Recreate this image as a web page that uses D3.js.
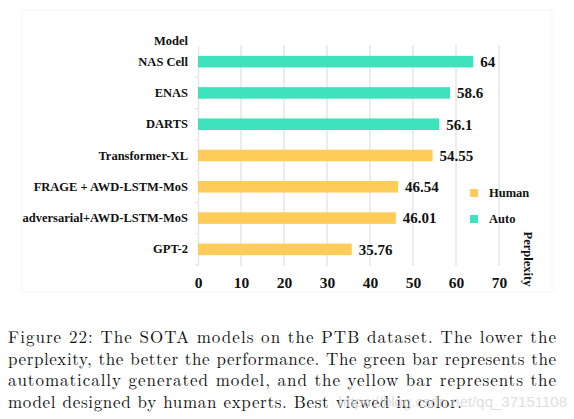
<!DOCTYPE html>
<html><head><meta charset="utf-8">
<script src="https://cdn.jsdelivr.net/npm/d3@7"></script>
<style>html,body{margin:0;padding:0;background:#fff;}svg{display:block;}</style>
</head><body>
<script>
const models = ["NAS Cell","ENAS","DARTS","Transformer-XL","FRAGE + AWD-LSTM-MoS","adversarial+AWD-LSTM-MoS","GPT-2"];
const perplexity = [64, 58.6, 56.1, 54.55, 46.54, 46.01, 35.76];
const valueLabels = ["64","58.6","56.1","54.55","46.54","46.01","35.76"];
const groups = ["Auto","Auto","Auto","Human","Human","Human","Human"];
const legendKeys = ["Human","Auto"];
const xTicks = [0,10,20,30,40,50,60,70];
const captionLines = [
  "Figure 22: The SOTA models on the PTB dataset. The lower the",
  "perplexity, the better the performance. The green bar represents the",
  "automatically generated model, and the yellow bar represents the",
  "model designed by human experts. Best viewed in color."
];
const colors = {Human:"#FFCC5A", Auto:"#3EE3BD"};

const W=574,H=419;
const SF='"Liberation Serif", monospace';
const CM='"Latin Modern Roman", monospace';
const svg=d3.select("body").append("svg").attr("width",W).attr("height",H);

svg.append("rect").attr("x",22).attr("y",10).attr("width",530).attr("height",282)
  .attr("fill","none").attr("stroke","#f5f5f5");

const x=d3.scaleLinear().domain([0,70]).range([198,499]);
const y=d3.scaleBand().domain(models).range([46,265]);

function lbl(sel,size){
  return sel.style("font-family",SF).style("font-weight","bold").style("font-size",size+"px").attr("fill","#111");
}

svg.append("g").selectAll("line").data(xTicks.slice(1)).join("line")
  .attr("x1",d=>x(d)).attr("x2",d=>x(d)).attr("y1",45).attr("y2",266)
  .attr("stroke","#e6e6e6").attr("stroke-width",1.5);

const yAxis=svg.append("g").attr("transform","translate(198,0)")
  .call(d3.axisLeft(y).tickSize(0).tickPadding(10));
yAxis.attr("font-family",null).attr("font-size",null);
yAxis.select(".domain").attr("stroke","#e6e6e6").attr("stroke-width",1.5);
lbl(yAxis.selectAll("text"),12.5);
svg.append("g").selectAll("line").data(d3.range(1,models.length+1)).join("line")
  .attr("x1",195).attr("x2",198)
  .attr("y1",i=>y.range()[0]+i*y.step()).attr("y2",i=>y.range()[0]+i*y.step())
  .attr("stroke","#e0e0e0");

lbl(svg.append("text").attr("x",188).attr("y",45).attr("text-anchor","end"),12.5).text("Model");

const xAxis=svg.append("g").attr("transform","translate(0,266)")
  .call(d3.axisBottom(x).tickValues(xTicks).tickSize(0).tickPadding(11));
xAxis.attr("font-family",null).attr("font-size",null);
xAxis.select(".domain").remove();
lbl(xAxis.selectAll("text"),15.5);

const bh=y.bandwidth()*0.37;
svg.append("g").selectAll("rect").data(models).join("rect")
  .attr("x",x(0)).attr("y",d=>y(d)+y.bandwidth()/2-bh/2)
  .attr("width",(d,i)=>x(perplexity[i])-x(0)).attr("height",bh)
  .attr("fill",(d,i)=>colors[groups[i]]);

lbl(svg.append("g").selectAll("text").data(models).join("text")
  .attr("x",(d,i)=>x(perplexity[i])+7).attr("y",d=>y(d)+y.bandwidth()/2)
  .attr("dy","0.36em"),15).text((d,i)=>valueLabels[i]);

const lg=svg.append("g");
legendKeys.forEach((k,i)=>{
  const yy=189+i*26;
  lg.append("rect").attr("x",470).attr("y",yy).attr("width",8).attr("height",8).attr("fill",colors[k]);
  lbl(lg.append("text").attr("x",489).attr("y",yy+4).attr("dy","0.35em"),12.5).text(k);
});

lbl(svg.append("text").attr("transform","translate(524,259) rotate(90)")
  .attr("text-anchor","middle"),12.5).text("Perplexity");

const cap=svg.append("g");
const capLen=[548,548,548,454];
captionLines.forEach((t,i)=>{
  cap.append("text").attr("x",8).attr("y",343+i*21.5)
    .style("font-family",CM).style("font-size","17px").attr("fill","#111")
    .attr("textLength",capLen[i]).attr("lengthAdjust","spacing").text(t);
});
svg.append("text").attr("x",567).attr("y",407).attr("text-anchor","end")
  .style("font-family",'"Liberation Sans", monospace').style("font-size","15px")
  .attr("fill","#d8d8d8").attr("opacity",0.8).text("https://blog.csdn.net/qq_37151108");
</script>
</body></html>
